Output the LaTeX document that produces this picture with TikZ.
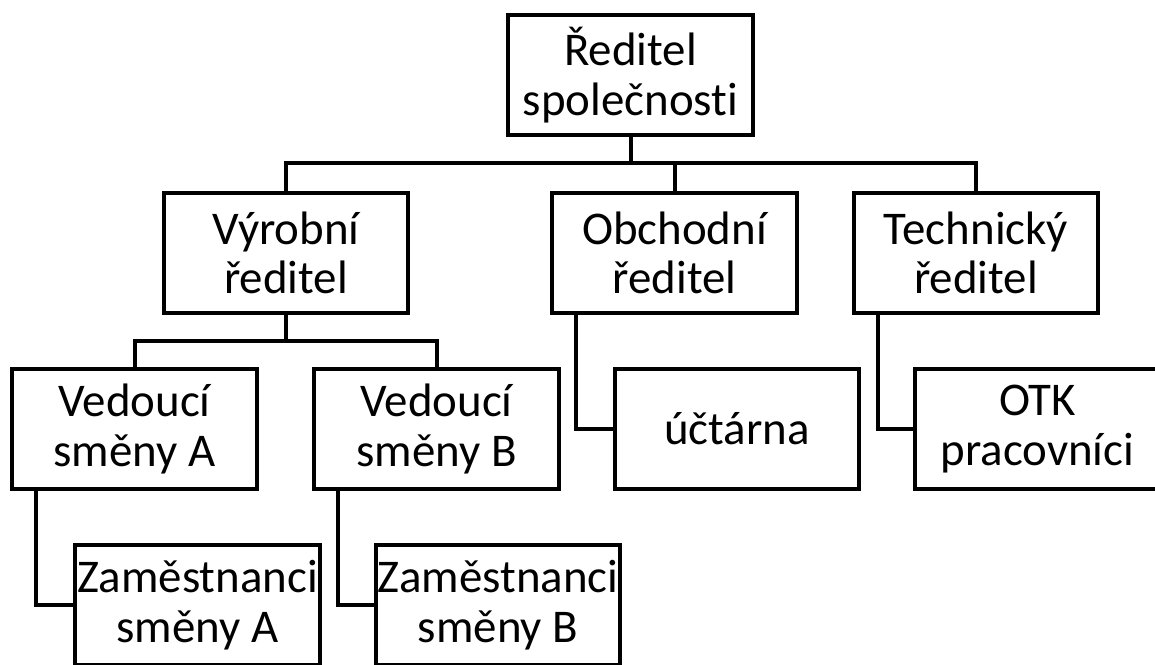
\documentclass[tikz,border=0pt]{standalone}
\usepackage{fontspec}
\setmainfont{Carlito}[Ligatures=NoCommon]
\begin{document}
\begin{tikzpicture}[x=0.02cm, y=-0.02cm,
    boxStyle/.style={draw, line width=0.08cm, minimum width=4.9cm, minimum height=2.4cm, inner sep=0pt, align=center, font=\fontsize{26.7pt}{28.2pt}\selectfont},
    lineStyle/.style={line width=0.08cm}]
                    \useasboundingbox (0,0) rectangle (1155,664);

                    \node[boxStyle](root) at (630.5, 75) {Ředitel\\společnosti};
                    \node[boxStyle](11) at ( 286, 253) {Výrobní\\ředitel};
                    \node[boxStyle](12) at ( 674.5, 253) {Obchodní\\ředitel};
                    \node[boxStyle](13) at ( 976, 253) {Technický\\ředitel};
                    \node[boxStyle](21) at ( 134.5, 429) {Vedoucí\\směny A};
                    \node[boxStyle](22) at ( 436.5, 429) {Vedoucí\\směny B};
                    \node[boxStyle](23) at ( 737, 429) {účtárna};
                    \node[boxStyle](24) at (1037.5, 429) {OTK\\pracovníci};
                    \node[boxStyle](31) at ( 197.5, 605) {Zaměstnanci\\směny A};
                    \node[boxStyle](32) at ( 498, 605) {Zaměstnanci\\směny B};

                    \coordinate (bus1) at (630.5, 163);
                    \coordinate (bus2) at (286, 341);

                    \draw[lineStyle] (root) -- (bus1);
                    \draw[lineStyle] (bus1) -| (11);
                    \draw[lineStyle] (bus1) -| (12);
                    \draw[lineStyle] (bus1) -| (13);
                    \draw[lineStyle] (11) -- (bus2);
                    \draw[lineStyle] (bus2) -| (21);
                    \draw[lineStyle] (bus2) -| (22);
                    \draw[lineStyle] ([xshift=0.52cm]12.south west) |- (23);
                    \draw[lineStyle] ([xshift=0.52cm]13.south west) |- (24);
                    \draw[lineStyle] ([xshift=0.52cm]21.south west) |- (31);
                    \draw[lineStyle] ([xshift=0.52cm]22.south west) |- (32);
                \end{tikzpicture}
\end{document}
